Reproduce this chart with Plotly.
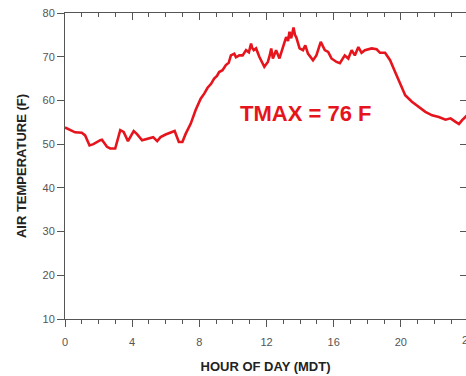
import plotly.graph_objects as go

# Hour of day (MDT) and air temperature (F)
hours = [0.00, 0.30, 0.60, 1.00, 1.20, 1.46, 1.69, 2.10, 2.20, 2.50, 2.69, 2.99,
         3.29, 3.49, 3.75, 4.09, 4.29, 4.59, 4.99, 5.25, 5.49, 5.69, 5.99, 6.39,
         6.53, 6.78, 6.99, 7.19, 7.49, 7.78, 8.08, 8.30, 8.49, 8.70, 8.88, 9.05,
         9.18, 9.38, 9.58, 9.75, 9.88, 10.08, 10.18, 10.28, 10.38, 10.58, 10.78,
         10.95, 11.08, 11.15, 11.24, 11.38, 11.57, 11.87, 12.08, 12.20, 12.28,
         12.38, 12.57, 12.77, 12.98, 13.17, 13.28, 13.37, 13.47, 13.61, 13.70,
         13.77, 13.97, 14.17, 14.31, 14.47, 14.77, 14.97, 15.23, 15.47, 15.67,
         15.87, 16.17, 16.37, 16.66, 16.87, 17.07, 17.26, 17.47, 17.66, 17.86,
         18.26, 18.56, 18.76, 19.06, 19.36, 19.66, 19.96, 20.26, 20.66, 21.06,
         21.46, 21.86, 22.26, 22.66, 22.96, 23.26, 23.46, 23.65, 23.95]
temps = [53.8, 53.2, 52.7, 52.6, 52.0, 49.7, 50.0, 50.9, 51.0, 49.4, 49.0, 49.0,
         53.2, 52.8, 50.7, 53.0, 52.3, 50.9, 51.3, 51.6, 50.7, 51.6, 52.2, 52.8,
         53.0, 50.5, 50.5, 52.4, 54.7, 57.8, 60.4, 61.6, 62.9, 63.8, 65.0, 65.6,
         66.5, 66.9, 68.1, 68.6, 70.3, 70.7, 69.9, 70.1, 70.3, 70.3, 71.5,
         71.0, 73.0, 72.0, 71.5, 71.9, 70.0, 67.7, 68.8, 70.4, 71.9,
         69.6, 71.5, 69.6, 72.2, 74.5, 73.6, 75.7, 74.2, 76.7, 74.9,
         74.5, 71.9, 71.5, 72.6, 70.7, 69.2, 70.3, 73.4, 71.5, 71.1,
         69.6, 68.8, 68.5, 70.3, 69.6, 71.5, 70.3, 72.2, 70.9, 71.5,
         71.9, 71.7, 70.9, 70.9, 69.2, 66.5, 63.9, 61.2, 59.7, 58.5,
         57.4, 56.6, 56.2, 55.6, 55.9, 55.1, 54.6, 55.5, 56.6]

x_ticks = [0, 4, 8, 12, 16, 20]
y_ticks = [10, 20, 30, 40, 50, 60, 70, 80]
last_tick = 24
tmax_label = "TMAX = 76 F"

RED = "#e6141c"
AXC = "#555555"
FONT = "Liberation Sans, Arial, sans-serif"
XR = [0, 23.88]
YR = [10, 80]

fig = go.Figure()
fig.add_trace(go.Scatter(x=hours, y=temps, mode="lines",
                         line=dict(color=RED, width=2.6), showlegend=False,
                         hoverinfo="skip"))
fig.add_trace(go.Scatter(x=[None], y=[None], xaxis="x2", yaxis="y2",
                         showlegend=False, hoverinfo="skip"))

fig.update_layout(
    width=466, height=376,
    margin=dict(l=65, r=0, t=13, b=57),
    paper_bgcolor="white", plot_bgcolor="white",
    font=dict(family=FONT, size=11, color="#555555"),
    xaxis=dict(range=XR, tickvals=x_ticks, ticktext=[str(v) for v in x_ticks],
               showgrid=False, zeroline=False, showline=True, linecolor=AXC,
               linewidth=1, ticks="outside", ticklen=7, tickcolor=AXC,
               ticklabelstandoff=6,
               minor=dict(dtick=1, tick0=0, ticks="outside", ticklen=4,
                          tickcolor=AXC, showgrid=False),
               title=dict(text="HOUR OF DAY (MDT)", standoff=14,
                          font=dict(family=FONT, size=13, color="#222222",
                                    weight="bold"))),
    yaxis=dict(range=YR, tickvals=y_ticks, showgrid=False, zeroline=False,
               showline=True, linecolor=AXC, linewidth=1, ticks="outside",
               ticklen=7, tickcolor=AXC,
               title=dict(text="AIR TEMPERATURE (F)", standoff=12,
                          font=dict(family=FONT, size=13, color="#222222",
                                    weight="bold"))),
    xaxis2=dict(range=XR, overlaying="x", side="top", anchor="y2",
                tickvals=x_ticks, showticklabels=False, showgrid=False,
                zeroline=False, showline=True, linecolor=AXC, linewidth=1,
                ticks="inside", ticklen=7, tickcolor=AXC,
                minor=dict(dtick=1, tick0=0, ticks="inside", ticklen=4,
                           tickcolor=AXC, showgrid=False)),
    yaxis2=dict(range=YR, overlaying="y", side="right", anchor="x2",
                tickvals=y_ticks, showticklabels=False, showgrid=False,
                zeroline=False, showline=False, ticks="inside", ticklen=6,
                tickcolor=AXC),
)

fig.add_annotation(x=14.3, y=57.1, xref="x", yref="y", text=tmax_label,
                   showarrow=False, xanchor="center", yanchor="middle",
                   font=dict(family=FONT, size=22, color=RED, weight="bold"))
fig.add_annotation(x=last_tick / XR[1], y=0, xref="paper", yref="paper",
                   text=str(last_tick), showarrow=False, xanchor="center",
                   yanchor="top", yshift=-13,
                   font=dict(family=FONT, size=11, color="#555555"))

fig.write_html("out.html")
